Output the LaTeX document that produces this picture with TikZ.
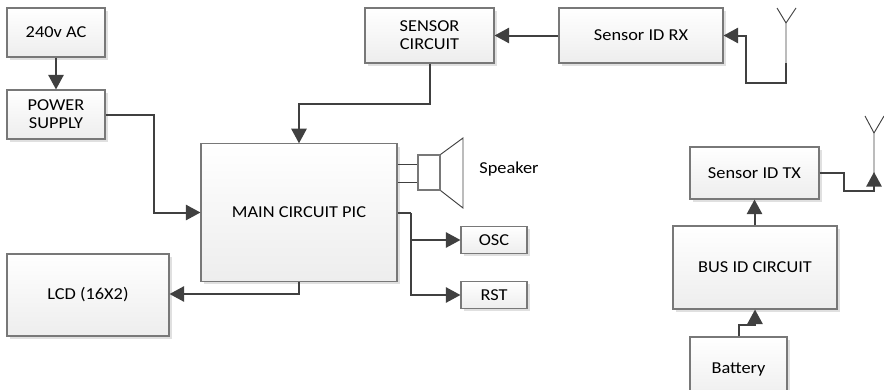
\documentclass[tikz,border=0pt]{standalone}
\usepackage{fontspec}
\setmainfont[FakeStretch=1.1]{Carlito}
\usetikzlibrary{arrows.meta,shadows}
\definecolor{linegray}{RGB}{64,64,64}
\definecolor{boxgray}{RGB}{120,120,120}
\tikzset{
  labelfont/.style={font=\fontsize{12.5}{13.5}\selectfont},
  block/.style={draw=boxgray, line width=0.8pt, top color=white, bottom color=black!7, text=black, labelfont, align=center, inner sep=0pt,
    drop shadow={shadow xshift=2.2pt, shadow yshift=-2.2pt, fill=black!12, opacity=1}},
  link/.style={draw=linegray, line width=1.5pt, -{Triangle[length=11pt,width=11.5pt]}},
  wire/.style={draw=linegray, line width=1.5pt},
  thinline/.style={draw=linegray, line width=0.7pt},
}
\begin{document}
\begin{tikzpicture}[x=0.75pt, y=-0.75pt]
    \useasboundingbox (0,0) rectangle (884,389);
    % left column
    \node[block, minimum width=73.5pt, minimum height=36.75pt] (mains) at (56,32.5) {240v AC};
    \node[block, minimum width=73.5pt, minimum height=36.75pt] (power) at (56,114.5) {POWER\\SUPPLY};
    \node[block, minimum width=121.5pt, minimum height=61.5pt] (lcd) at (88,295) {LCD (16X2)};
    % top row
    \node[block, minimum width=96.75pt, minimum height=41.25pt] (circuit) at (429.5,35.5) {SENSOR\\CIRCUIT};
    \node[block, minimum width=123pt, minimum height=41.25pt] (rx) at (641,35.5) {Sensor ID RX};
    % main board and outputs
    \node[block, minimum width=147pt, minimum height=103pt] (main) at (299,212.5) {MAIN CIRCUIT PIC};
    \node[block, minimum width=49.5pt, minimum height=20.25pt] (osc) at (494,240) {OSC};
    \node[block, minimum width=49.5pt, minimum height=20.25pt] (rst) at (494,295) {RST};
    % bus side
    \node[block, minimum width=96.75pt, minimum height=39pt] (tx) at (754.5,173) {Sensor ID TX};
    \node[block, minimum width=123pt, minimum height=62.25pt] (bus) at (755,267.5) {BUS ID CIRCUIT};
    \node[block, minimum width=72.75pt, minimum height=48pt] (battery) at (738.5,369) {Battery};

    % speaker
    \node[draw=boxgray, line width=0.8pt, fill=white, minimum width=16.5pt, minimum height=26.25pt, inner sep=0pt] (coil) at (429,172.5) {};
    \coordinate (conetop) at (463,138);
    \coordinate (conebot) at (463,208);
    \draw[thinline] (coil.north east) -- (conetop) -- (conebot) -- (coil.south east);
    \draw[thinline] (main.east |- 0,164) -- (coil.west |- 0,164);
    \draw[thinline] (main.east |- 0,182) -- (coil.west |- 0,182);
    \node[labelfont, inner sep=0pt] (speaker) at (509,169) {Speaker};

    % antennas
    \coordinate (rxfoot) at (786,83);
    \coordinate (rxmid) at (786,63);
    \coordinate (rxfork) at (786,23);
    \coordinate (txfoot) at (874,191);
    \coordinate (txfork) at (874,133);
    \draw[thinline] (rxmid) -- (rxfork) -- ++(-9,-15) (rxfork) -- ++(10,-15);
    \draw[thinline] (txfoot) -- (txfork) -- ++(-9,-17) (txfork) -- ++(10,-17);

    % connectors
    \draw[link] (mains) -- (power);
    \draw[link] (power.east) -- ++(48,0) |- (main.west);
    \draw[link] (circuit.south) -- ++(0,40) -| (main.north);
    \draw[link] (rx) -- (circuit);
    \draw[link] (rxmid) -- (rxfoot) -- ++(-40,0) |- (rx.east);
    \draw[link] (main.south) |- (lcd.east |- 0,294);
    \draw[wire] (main.east |- 0,213) -- ++(13,0) coordinate (split);
    \draw[link] (split) |- (osc.west);
    \draw[link] (split) |- (rst.west);
    \draw[link] (bus.north -| tx.south) -- (tx.south);
    \draw[link] (battery.north) -- ++(0,-11) -| (bus.south);
    \draw[link] (tx.east) -- ++(24,0) |- (txfoot) -- ++(0,-19);
\end{tikzpicture}
\end{document}
